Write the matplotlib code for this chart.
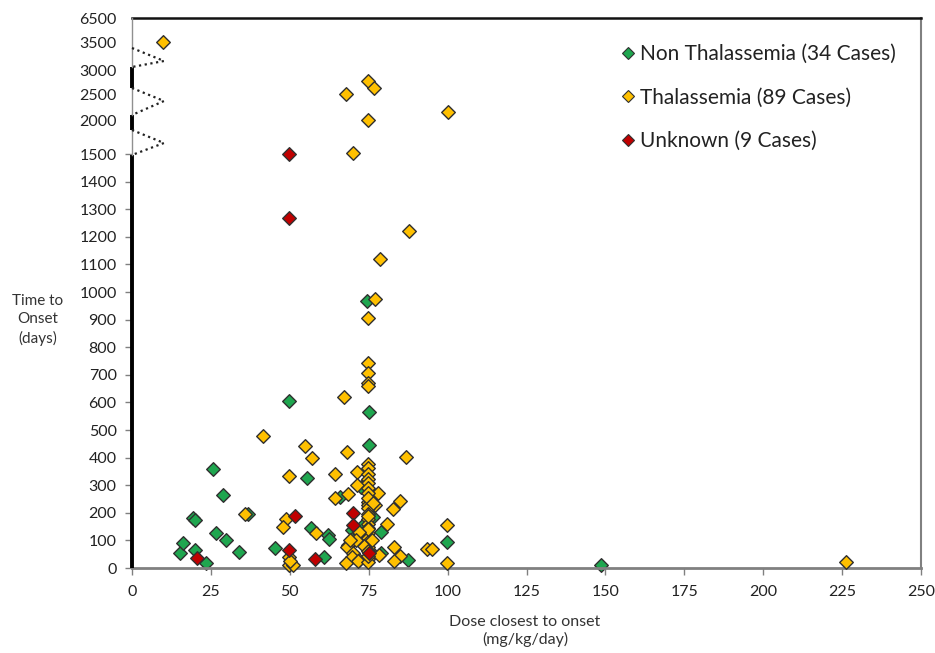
import numpy as np
import matplotlib
matplotlib.use("Agg")
import matplotlib.pyplot as plt
from matplotlib.lines import Line2D

plt.rcParams['font.family'] = ['Lato', 'DejaVu Sans']

# ---------------- data ----------------
non_thal_x = [15.2, 16.2, 19.3, 19.9, 20.0, 23.4, 25.6, 26.6, 28.8, 29.8, 33.9, 36.8,
              45.3, 49.8, 55.5, 56.7, 60.8, 62.0, 62.4, 66.0, 69.7, 72.6, 74.5, 75.1,
              75.1, 76.4, 78.9, 79.0, 87.5, 99.8, 148.6, 73.5, 75.5, 71.0]
non_thal_y = [54, 90, 181, 174, 65, 18, 358, 127, 265, 101, 58, 196,
              72, 605, 326, 145, 40, 118, 105, 257, 138, 293, 967, 565,
              446, 184, 130, 55, 29, 94, 10, 160, 60, 120]

thal_x = [9.8, 67.8, 74.8, 76.7, 100.1, 74.8, 70.0, 87.8, 78.6, 77.0, 74.8, 74.8,
          74.8, 74.8, 74.8, 67.2, 41.5, 54.8, 68.1, 86.8, 57.0, 74.8, 74.8, 64.3,
          71.3, 49.7, 74.8, 74.8, 74.8, 71.2, 74.8, 77.9, 68.5, 64.3, 74.8, 85.0,
          74.8, 77.0, 74.8, 82.8, 74.8, 35.8, 74.8, 48.8, 74.8, 80.8, 74.8, 99.8,
          47.8, 74.8, 58.3, 74.8, 71.3, 72.9, 74.8, 74.8, 68.4, 68.0, 74.8, 83.0,
          93.5, 95.0, 70.0, 69.7, 78.3, 85.0, 49.7, 49.7, 51.0, 74.8, 71.9, 71.6,
          67.8, 74.8, 83.0, 99.8, 226.3, 50.0, 74.8, 74.8, 74.8, 73.5, 72.0, 71.0,
          76.0, 76.5, 69.0, 74.8, 74.8]
thal_y = [3600, 2520, 2780, 2640, 2160, 2000, 1510, 1221, 1120, 975, 906, 743,
          707, 670, 660, 620, 478, 442, 420, 402, 398, 377, 362, 341,
          348, 333, 341, 322, 308, 300, 290, 272, 268, 254, 272, 243,
          239, 228, 228, 214, 217, 196, 196, 177, 177, 160, 159, 156,
          149, 145, 127, 127, 112, 109, 109, 94, 83, 76, 76, 76,
          69, 68, 54, 40, 47, 45, 40, 11, 11, 33, 29, 25,
          18, 22, 25, 18, 20, 25, 255, 190, 140, 80, 130, 100,
          100, 235, 100, 60, 45]

unk_x = [49.8, 49.8, 51.6, 49.7, 20.6, 58.0, 70.0, 70.0, 75.1]
unk_y = [1500, 1268, 188, 65, 36, 33, 200, 156, 54]

labels = ["Non Thalassemia (34 Cases)", "Thalassemia (89 Cases)", "Unknown (9 Cases)"]
colors = ["#1FA64F", "#FFC000", "#C00000"]

y_major = list(range(0, 1501, 100))
y_upper = [2000, 2500, 3000, 3500, 6500]
x_ticks = list(range(0, 251, 25))

# broken axis: piecewise-linear scale (knots in value / relative position)
knot_v = [0, 1500, 2000, 2500, 3000, 3500, 6500]
knot_p = [0, 414, 448, 473, 498, 525, 550]

def fwd(v):
    return np.interp(v, knot_v, knot_p)

def inv(p):
    return np.interp(p, knot_p, knot_v)

# ---------------- figure ----------------
fig = plt.figure(figsize=(9.35, 6.53), dpi=100)
L, R, B, T = 132, 921, 568, 18
ax = fig.add_axes([L / 935, 1 - B / 653, (R - L) / 935, (B - T) / 653])
ax.set_yscale('function', functions=(fwd, inv))
ax.set_xlim(0, 250)
ax.set_ylim(0, 6500)

edge = "#303030"
for xs, ys, c, z in [(thal_x, thal_y, colors[1], 3), (non_thal_x, non_thal_y, colors[0], 2),
                     (unk_x, unk_y, colors[2], 4)]:
    ax.scatter(xs, ys, marker='D', s=48, facecolor=c, edgecolor=edge, linewidth=1.0,
               zorder=z, clip_on=False)

# ticks
ax.set_xticks(x_ticks)
ax.set_yticks(y_major)
ax.set_yticks(y_upper, minor=True)
ax.set_yticklabels([str(v) for v in y_upper], minor=True)
ax.tick_params(axis='y', which='major', length=5, width=1, color='#808080',
               labelsize=11.5, pad=6, labelcolor='#222222')
ax.tick_params(axis='y', which='minor', length=0, labelsize=11.5, pad=11, labelcolor='#222222')
ax.tick_params(axis='x', length=5, width=1, color='#808080', labelsize=11.5, pad=7,
               labelcolor='#222222')

# spines
ax.spines['left'].set_visible(False)
ax.spines['top'].set_color('#111111')
ax.spines['top'].set_linewidth(1.8)
ax.spines['right'].set_color('#808080')
ax.spines['right'].set_linewidth(1.5)
ax.spines['bottom'].set_color('#808080')
ax.spines['bottom'].set_linewidth(2)

def yf(py):
    return (B - py) / (B - T)

# left axis segments
thick = [(0.0, yf(155)), (yf(130), yf(115)), (yf(88), yf(67))]
thin = [(yf(155), yf(130)), (yf(115), yf(88)), (yf(67), 1.0)]
for a, b in thick:
    ax.plot([0, 0], [a, b], transform=ax.transAxes, color='black', lw=2.8,
            solid_capstyle='butt', clip_on=False, zorder=5)
for a, b in thin:
    ax.plot([0, 0], [a, b], transform=ax.transAxes, color='#909090', lw=1.0,
            clip_on=False, zorder=5)

# break marks (dotted zigzags)
apex_x = (164 - L) / (R - L)
for top, mid, bot in [(130, 143, 155), (88, 101, 115), (48, 61, 67)]:
    ax.plot([0, apex_x, 0], [yf(top), yf(mid), yf(bot)], transform=ax.transAxes,
            color='#222222', lw=1.6, ls=(0, (1, 1.6)), clip_on=False, zorder=5)

# axis labels
fig.text(38 / 935, 1 - 320 / 653, "Time to\nOnset\n(days)", ha='center', va='center',
         fontsize=11, color='#333333', linespacing=1.35)
fig.text(525 / 935, 1 - 631 / 653, "Dose closest to onset\n(mg/kg/day)", ha='center',
         va='center', fontsize=11.5, color='#333333', linespacing=1.3)

# legend
handles = [Line2D([], [], marker='D', ls='none', markersize=6, markerfacecolor=c,
                  markeredgecolor=edge, markeredgewidth=0.8) for c in colors]
leg = ax.legend(handles, labels, loc='upper right', bbox_to_anchor=(0.995, 0.99),
                frameon=False, fontsize=15, handletextpad=0.25, labelspacing=1.12,
                handlelength=0.7, borderaxespad=0.6)
for t in leg.get_texts():
    t.set_color('#222222')

fig.savefig("out.png", dpi=100)
